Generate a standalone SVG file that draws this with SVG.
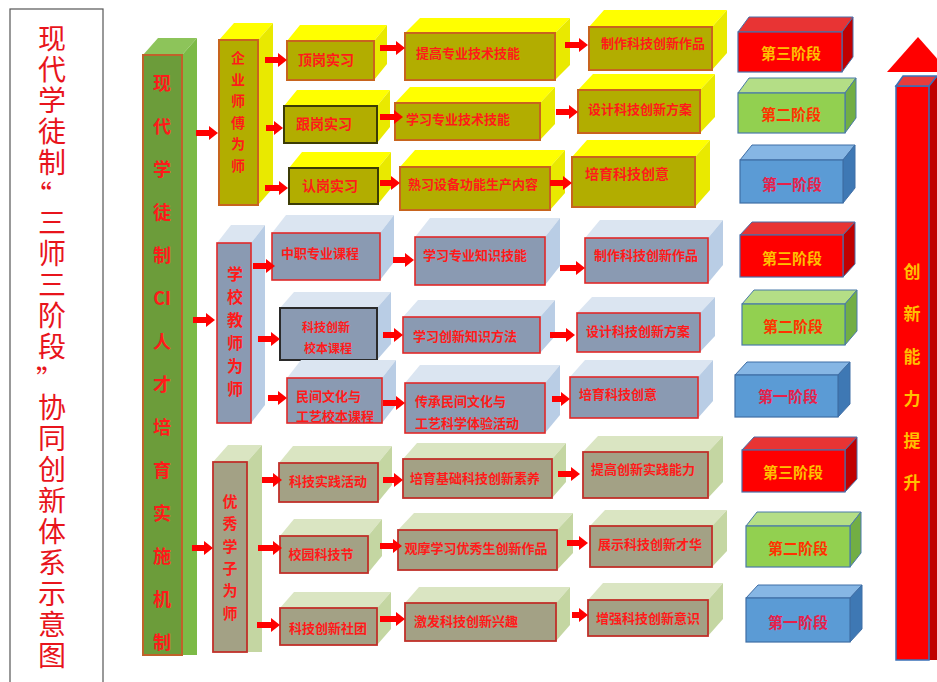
<svg xmlns="http://www.w3.org/2000/svg" width="937" height="682" viewBox="0 0 937 682">
<defs>
<marker id="ah" markerUnits="userSpaceOnUse" markerWidth="9" markerHeight="14" viewBox="0 0 9 14" refX="0" refY="7" orient="auto"><path d="M0,0 L9,7 L0,14 z" fill="#ff0000"/></marker>
</defs>
<style>
text{font-family:"Noto Sans CJK SC","Noto Sans",sans-serif;dominant-baseline:central;text-anchor:middle}
.t{font-weight:bold;fill:#ff1a1a;font-size:13px}
.ti{fill:#e8141c;font-size:28px}
.tv{writing-mode:vertical-rl;letter-spacing:3px;text-anchor:start}
.yf{fill:#b2ad00;stroke:#c8641e;stroke-width:2}
.yd{fill:#b2ad00;stroke:#3c3c05;stroke-width:2}
.yt{fill:#ffff00}.ys{fill:#e9e900}
.gf{fill:#8a9ab2;stroke:#e02828;stroke-width:1.6}
.gd{fill:#8a9ab2;stroke:#2a2a2a;stroke-width:2}
.gt{fill:#dbe5f1}.gs{fill:#b9cde5}
.of{fill:#a3a185;stroke:#c0302a;stroke-width:1.8}
.ot{fill:#dae5c2}.os{fill:#c4d6a2}
.rf{fill:#ff0000;stroke:#4a6fa8;stroke-width:1.2}.rt{fill:#e83434;stroke:#4a6fa8;stroke-width:1}.rs{fill:#c00000;stroke:#4a6fa8;stroke-width:1}
.nf{fill:#92d050;stroke:#4a7aa8;stroke-width:1.2}.nt{fill:#b4de86;stroke:#4a7aa8;stroke-width:1}.ns{fill:#72ae44;stroke:#4a7aa8;stroke-width:1}
.bf{fill:#5b9bd5;stroke:#3f6ea6;stroke-width:1.2}.bt{fill:#86b6e4;stroke:#3f6ea6;stroke-width:1}.bs{fill:#3e78b4;stroke:#3f6ea6;stroke-width:1}
.s3{font-weight:bold;font-size:15px;fill:#ffc000}
.s2{font-weight:bold;font-size:15px;fill:#ff3300}
.s1{font-weight:bold;font-size:15px;fill:#e8204a}
.ar{stroke:#ff0000;stroke-width:6;fill:none;marker-end:url(#ah)}
</style>
<rect width="937" height="682" fill="#ffffff"/>

<g id="title">
<rect x="10" y="9" width="93" height="690" fill="#ffffff" stroke="#555555" stroke-width="1.2"/>
<text class="ti tv" x="52" y="24">现代学徒制</text>
<text class="ti" x="38" y="194">“</text>
<text class="ti tv" x="52" y="208">三师三阶段</text>
<text class="ti" x="50" y="379">”</text>
<text class="ti tv" x="52" y="393">协同创新体系示意图</text>
</g>

<g id="main-bar">
<polygon points="143,55 158,38 197,38 182,55" fill="#8dc45a"/>
<polygon points="182,55 197,38 197,655 182,655" fill="#7cba46"/>
<rect x="143" y="55" width="39" height="600" fill="#6c9c3a" stroke="#c0622a" stroke-width="2"/>
<text class="t" style="font-size:18px" x="162" y="82">现</text>
<text class="t" style="font-size:18px" x="162" y="125">代</text>
<text class="t" style="font-size:18px" x="162" y="168">学</text>
<text class="t" style="font-size:18px" x="162" y="211">徒</text>
<text class="t" style="font-size:18px" x="162" y="254">制</text>
<text class="t" style="font-size:18px" x="162" y="297">CI</text>
<text class="t" style="font-size:18px" x="162" y="340">人</text>
<text class="t" style="font-size:18px" x="162" y="383">才</text>
<text class="t" style="font-size:18px" x="162" y="426">培</text>
<text class="t" style="font-size:18px" x="162" y="469">育</text>
<text class="t" style="font-size:18px" x="162" y="512">实</text>
<text class="t" style="font-size:18px" x="162" y="555">施</text>
<text class="t" style="font-size:18px" x="162" y="598">机</text>
<text class="t" style="font-size:18px" x="162" y="641">制</text>
</g>

<!-- Group 1 -->
<g id="g1-col">
<polygon class="yt" points="219,40 234,23 273,23 258,40"/>
<polygon class="ys" points="258,40 273,23 273,188 258,205"/>
<rect class="yf" x="219" y="40" width="39" height="165"/>
<text class="t" style="font-size:14px" x="238" y="57">企</text>
<text class="t" style="font-size:14px" x="238" y="79">业</text>
<text class="t" style="font-size:14px" x="238" y="100">师</text>
<text class="t" style="font-size:14px" x="238" y="122">傅</text>
<text class="t" style="font-size:14px" x="238" y="143">为</text>
<text class="t" style="font-size:14px" x="238" y="165">师</text>
</g>
<g id="g1-a1">
<polygon class="yt" points="287,41 300,25 387,25 374,41"/>
<polygon class="ys" points="374,41 387,25 387,64 374,80"/>
<rect class="yf" x="287" y="41" width="87" height="39"/>
<text class="t" style="font-size:14px" x="326" y="59">顶岗实习</text>
</g>
<g id="g1-a2">
<polygon class="yt" points="284,106 297,90 390,90 377,106"/>
<polygon class="ys" points="377,106 390,90 390,127 377,143"/>
<rect class="yd" x="284" y="106" width="93" height="37"/>
<text class="t" style="font-size:14px" x="324" y="123">跟岗实习</text>
</g>
<g id="g1-a3">
<polygon class="yt" points="289,168 302,152 391,152 378,168"/>
<polygon class="ys" points="378,168 391,152 391,188 378,204"/>
<rect class="yd" x="289" y="168" width="89" height="36"/>
<text class="t" style="font-size:14px" x="330" y="185">认岗实习</text>
</g>
<g id="g1-b1">
<polygon class="yt" points="405,33 420,18 570,18 555,33"/>
<polygon class="ys" points="555,33 570,18 570,65 555,80"/>
<rect class="yf" x="405" y="33" width="150" height="47"/>
<text class="t" x="468" y="52">提高专业技术技能</text>
</g>
<g id="g1-b2">
<polygon class="yt" points="395,103 410,87 555,87 540,103"/>
<polygon class="ys" points="540,103 555,87 555,124 540,140"/>
<rect class="yf" x="395" y="103" width="145" height="37"/>
<text class="t" x="458" y="118">学习专业技术技能</text>
</g>
<g id="g1-b3">
<polygon class="yt" points="400,167 415,150 565,150 550,167"/>
<polygon class="ys" points="550,167 565,150 565,193 550,210"/>
<rect class="yf" x="400" y="167" width="150" height="43"/>
<text class="t" x="473" y="183">熟习设备功能生产内容</text>
</g>
<g id="g1-c1">
<polygon class="yt" points="589,27 604,10 727,10 712,27"/>
<polygon class="ys" points="712,27 727,10 727,53 712,70"/>
<rect class="yf" x="589" y="27" width="123" height="43"/>
<text class="t" x="653" y="42">制作科技创新作品</text>
</g>
<g id="g1-c2">
<polygon class="yt" points="578,90 593,74 715,74 700,90"/>
<polygon class="ys" points="700,90 715,74 715,117 700,133"/>
<rect class="yf" x="578" y="90" width="122" height="43"/>
<text class="t" x="640" y="108">设计科技创新方案</text>
</g>
<g id="g1-c3">
<polygon class="yt" points="572,157 587,140 710,140 695,157"/>
<polygon class="ys" points="695,157 710,140 710,190 695,207"/>
<rect class="yf" x="572" y="157" width="123" height="50"/>
<text class="t" style="font-size:14px" x="627" y="173">培育科技创意</text>
</g>
<g id="g1-s3">
<polygon class="rt" points="738,32 749,17 853,17 842,32"/>
<polygon class="rs" points="842,32 853,17 853,57 842,72"/>
<rect class="rf" x="738" y="32" width="104" height="40"/>
<text class="s3" x="791" y="52">第三阶段</text>
</g>
<g id="g1-s2">
<polygon class="nt" points="738,93 749,78 856,78 845,93"/>
<polygon class="ns" points="845,93 856,78 856,118 845,133"/>
<rect class="nf" x="738" y="93" width="107" height="40"/>
<text class="s2" x="791" y="113">第二阶段</text>
</g>
<g id="g1-s1">
<polygon class="bt" points="740,160 752,145 855,145 843,160"/>
<polygon class="bs" points="843,160 855,145 855,188 843,203"/>
<rect class="bf" x="740" y="160" width="103" height="43"/>
<text class="s1" x="792" y="183">第一阶段</text>
</g>

<!-- Group 2 -->
<g id="g2-col">
<polygon class="gt" points="217,243 231,225 265,225 251,243"/>
<polygon class="gs" points="251,243 265,225 265,405 251,423"/>
<rect class="gf" x="217" y="243" width="34" height="180"/>
<text class="t" style="font-size:16px" x="235" y="273">学</text>
<text class="t" style="font-size:16px" x="235" y="296">校</text>
<text class="t" style="font-size:16px" x="235" y="319">教</text>
<text class="t" style="font-size:16px" x="235" y="342">师</text>
<text class="t" style="font-size:16px" x="235" y="365">为</text>
<text class="t" style="font-size:16px" x="235" y="388">师</text>
</g>
<g id="g2-a1">
<polygon class="gt" points="272,233 286,215 394,215 380,233"/>
<polygon class="gs" points="380,233 394,215 394,262 380,280"/>
<rect class="gf" x="272" y="233" width="108" height="47"/>
<text class="t" x="320" y="252">中职专业课程</text>
</g>
<g id="g2-a2">
<polygon class="gt" points="280,308 294,292 391,292 377,308"/>
<polygon class="gs" points="377,308 391,292 391,344 377,360"/>
<rect class="gd" x="280" y="308" width="97" height="52"/>
<text class="t" style="font-size:12px" x="326" y="326">科技创新</text>
<text class="t" style="font-size:12px" x="328" y="347">校本课程</text>
</g>
<g id="g2-a3">
<polygon class="gt" points="287,378 301,360 396,360 382,378"/>
<polygon class="gs" points="382,378 396,360 396,405 382,423"/>
<rect class="gf" x="287" y="378" width="95" height="45"/>
<text class="t" style="text-anchor:start" x="296" y="395">民间文化与</text>
<text class="t" style="text-anchor:start" x="296" y="415">工艺校本课程</text>
</g>
<g id="g2-b1">
<polygon class="gt" points="415,237 430,218 560,218 545,237"/>
<polygon class="gs" points="545,237 560,218 560,266 545,285"/>
<rect class="gf" x="415" y="237" width="130" height="48"/>
<text class="t" x="475" y="254">学习专业知识技能</text>
</g>
<g id="g2-b2">
<polygon class="gt" points="403,317 418,300 555,300 540,317"/>
<polygon class="gs" points="540,317 555,300 555,336 540,353"/>
<rect class="gf" x="403" y="317" width="137" height="36"/>
<text class="t" x="465" y="335">学习创新知识方法</text>
</g>
<g id="g2-b3">
<polygon class="gt" points="405,383 420,365 560,365 545,383"/>
<polygon class="gs" points="545,383 560,365 560,415 545,433"/>
<rect class="gf" x="405" y="383" width="140" height="50"/>
<text class="t" style="text-anchor:start" x="415" y="400">传承民间文化与</text>
<text class="t" style="text-anchor:start" x="415" y="422">工艺科学体验活动</text>
</g>
<g id="g2-c1">
<polygon class="gt" points="585,238 600,220 723,220 708,238"/>
<polygon class="gs" points="708,238 723,220 723,265 708,283"/>
<rect class="gf" x="585" y="238" width="123" height="45"/>
<text class="t" x="646" y="254">制作科技创新作品</text>
</g>
<g id="g2-c2">
<polygon class="gt" points="577,313 592,297 715,297 700,313"/>
<polygon class="gs" points="700,313 715,297 715,336 700,352"/>
<rect class="gf" x="577" y="313" width="123" height="39"/>
<text class="t" x="638" y="330">设计科技创新方案</text>
</g>
<g id="g2-c3">
<polygon class="gt" points="570,377 585,360 713,360 698,377"/>
<polygon class="gs" points="698,377 713,360 713,401 698,418"/>
<rect class="gf" x="570" y="377" width="128" height="41"/>
<text class="t" x="618" y="393">培育科技创意</text>
</g>
<g id="g2-s3">
<polygon class="rt" points="740,235 752,222 855,222 843,235"/>
<polygon class="rs" points="843,235 855,222 855,264 843,277"/>
<rect class="rf" x="740" y="235" width="103" height="42"/>
<text class="s3" x="792" y="257">第三阶段</text>
</g>
<g id="g2-s2">
<polygon class="nt" points="742,304 754,290 857,290 845,304"/>
<polygon class="ns" points="845,304 857,290 857,331 845,345"/>
<rect class="nf" x="742" y="304" width="103" height="41"/>
<text class="s2" x="793" y="325">第二阶段</text>
</g>
<g id="g2-s1">
<polygon class="bt" points="735,375 747,362 850,362 838,375"/>
<polygon class="bs" points="838,375 850,362 850,404 838,417"/>
<rect class="bf" x="735" y="375" width="103" height="42"/>
<text class="s1" x="788" y="395">第一阶段</text>
</g>

<!-- Group 3 -->
<g id="g3-col">
<polygon class="ot" points="213,462 228,445 262,445 247,462"/>
<polygon class="os" points="247,462 262,445 262,652 247,652"/>
<rect class="of" x="213" y="462" width="34" height="190"/>
<text class="t" style="font-size:15px" x="230" y="500">优</text>
<text class="t" style="font-size:15px" x="230" y="522">秀</text>
<text class="t" style="font-size:15px" x="230" y="545">学</text>
<text class="t" style="font-size:15px" x="230" y="567">子</text>
<text class="t" style="font-size:15px" x="230" y="589">为</text>
<text class="t" style="font-size:15px" x="230" y="612">师</text>
</g>
<g id="g3-a1">
<polygon class="ot" points="279,463 293,446 392,446 378,463"/>
<polygon class="os" points="378,463 392,446 392,485 378,502"/>
<rect class="of" x="279" y="463" width="99" height="39"/>
<text class="t" x="328" y="480">科技实践活动</text>
</g>
<g id="g3-a2">
<polygon class="ot" points="280,536 294,519 382,519 368,536"/>
<polygon class="os" points="368,536 382,519 382,556 368,573"/>
<rect class="of" x="280" y="536" width="88" height="37"/>
<text class="t" x="321" y="553">校园科技节</text>
</g>
<g id="g3-a3">
<polygon class="ot" points="280,608 294,592 391,592 377,608"/>
<polygon class="os" points="377,608 391,592 391,629 377,645"/>
<rect class="of" x="280" y="608" width="97" height="37"/>
<text class="t" x="328" y="627">科技创新社团</text>
</g>
<g id="g3-b1">
<polygon class="ot" points="403,459 417,443 566,443 552,459"/>
<polygon class="os" points="552,459 566,443 566,482 552,498"/>
<rect class="of" x="403" y="459" width="149" height="39"/>
<text class="t" x="475" y="477">培育基础科技创新素养</text>
</g>
<g id="g3-b2">
<polygon class="ot" points="398,530 414,513 573,513 557,530"/>
<polygon class="os" points="557,530 573,513 573,553 557,570"/>
<rect class="of" x="398" y="530" width="159" height="40"/>
<text class="t" x="476" y="547">观摩学习优秀生创新作品</text>
</g>
<g id="g3-b3">
<polygon class="ot" points="405,603 419,587 570,587 556,603"/>
<polygon class="os" points="556,603 570,587 570,625 556,641"/>
<rect class="of" x="405" y="603" width="151" height="38"/>
<text class="t" x="466" y="620">激发科技创新兴趣</text>
</g>
<g id="g3-c1">
<polygon class="ot" points="583,452 598,436 723,436 708,452"/>
<polygon class="os" points="708,452 723,436 723,482 708,498"/>
<rect class="of" x="583" y="452" width="125" height="46"/>
<text class="t" x="643" y="468">提高创新实践能力</text>
</g>
<g id="g3-c2">
<polygon class="ot" points="590,526 605,510 727,510 712,526"/>
<polygon class="os" points="712,526 727,510 727,551 712,567"/>
<rect class="of" x="590" y="526" width="122" height="41"/>
<text class="t" x="650" y="543">展示科技创新才华</text>
</g>
<g id="g3-c3">
<polygon class="ot" points="588,600 603,583 723,583 708,600"/>
<polygon class="os" points="708,600 723,583 723,619 708,636"/>
<rect class="of" x="588" y="600" width="120" height="36"/>
<text class="t" x="648" y="617">增强科技创新意识</text>
</g>
<g id="g3-s3">
<polygon class="rt" points="742,450 754,437 857,437 845,450"/>
<polygon class="rs" points="845,450 857,437 857,479 845,492"/>
<rect class="rf" x="742" y="450" width="103" height="42"/>
<text class="s3" x="793" y="471">第三阶段</text>
</g>
<g id="g3-s2">
<polygon class="nt" points="746,526 757,512 861,512 850,526"/>
<polygon class="ns" points="850,526 861,512 861,553 850,567"/>
<rect class="nf" x="746" y="526" width="104" height="41"/>
<text class="s2" x="798" y="547">第二阶段</text>
</g>
<g id="g3-s1">
<polygon class="bt" points="746,598 758,585 862,585 850,598"/>
<polygon class="bs" points="850,598 862,585 862,629 850,642"/>
<rect class="bf" x="746" y="598" width="104" height="44"/>
<text class="s1" x="798" y="621">第一阶段</text>
</g>

<g id="rise-arrow">
<polygon points="887,72 918,37 949,72" fill="#ff0000"/>
<polygon points="929,86 937,76 937,660 929,660" fill="#c00000"/>
<rect x="896" y="86" width="33" height="574" fill="#ff0000" stroke="#3a70b8" stroke-width="1.5"/>
<polygon points="896,86 903,76 937,76 929,86" fill="#e83c3c" stroke="#3a70b8" stroke-width="1.5"/>
<text style="font-size:17px;font-weight:bold;fill:#ffc000" x="912" y="270">创</text>
<text style="font-size:17px;font-weight:bold;fill:#ffc000" x="912" y="312">新</text>
<text style="font-size:17px;font-weight:bold;fill:#ffc000" x="912" y="355">能</text>
<text style="font-size:17px;font-weight:bold;fill:#ffc000" x="912" y="397">力</text>
<text style="font-size:17px;font-weight:bold;fill:#ffc000" x="912" y="439">提</text>
<text style="font-size:17px;font-weight:bold;fill:#ffc000" x="912" y="481">升</text>
</g>

<g id="connectors">
<line class="ar" x1="196" y1="133" x2="209" y2="133"/>
<line class="ar" x1="193" y1="320" x2="206" y2="320"/>
<line class="ar" x1="192" y1="548" x2="204" y2="548"/>
<line class="ar" x1="265" y1="60" x2="278" y2="60"/>
<line class="ar" x1="266" y1="128" x2="274" y2="128"/>
<line class="ar" x1="265" y1="188" x2="279" y2="188"/>
<line class="ar" x1="380" y1="48" x2="396" y2="48"/>
<line class="ar" x1="380" y1="117" x2="394" y2="117"/>
<line class="ar" x1="380" y1="183" x2="391" y2="183"/>
<line class="ar" x1="565" y1="45" x2="579" y2="45"/>
<line class="ar" x1="556" y1="112" x2="569" y2="112"/>
<line class="ar" x1="550" y1="183" x2="563" y2="183"/>
<line class="ar" x1="253" y1="266" x2="266" y2="266"/>
<line class="ar" x1="258" y1="339" x2="271" y2="339"/>
<line class="ar" x1="268" y1="398" x2="278" y2="398"/>
<line class="ar" x1="393" y1="260" x2="405" y2="260"/>
<line class="ar" x1="383" y1="335" x2="394" y2="335"/>
<line class="ar" x1="383" y1="403" x2="396" y2="403"/>
<line class="ar" x1="560" y1="268" x2="576" y2="268"/>
<line class="ar" x1="550" y1="335" x2="566" y2="335"/>
<line class="ar" x1="552" y1="399" x2="561" y2="399"/>
<line class="ar" x1="262" y1="480" x2="273" y2="480"/>
<line class="ar" x1="258" y1="548" x2="273" y2="548"/>
<line class="ar" x1="257" y1="625" x2="271" y2="625"/>
<line class="ar" x1="383" y1="480" x2="394" y2="480"/>
<line class="ar" x1="380" y1="546" x2="393" y2="546"/>
<line class="ar" x1="380" y1="619" x2="396" y2="619"/>
<line class="ar" x1="558" y1="474" x2="571" y2="474"/>
<line class="ar" x1="567" y1="543" x2="579" y2="543"/>
<line class="ar" x1="572" y1="615" x2="579" y2="615"/>
</g>
</svg>
